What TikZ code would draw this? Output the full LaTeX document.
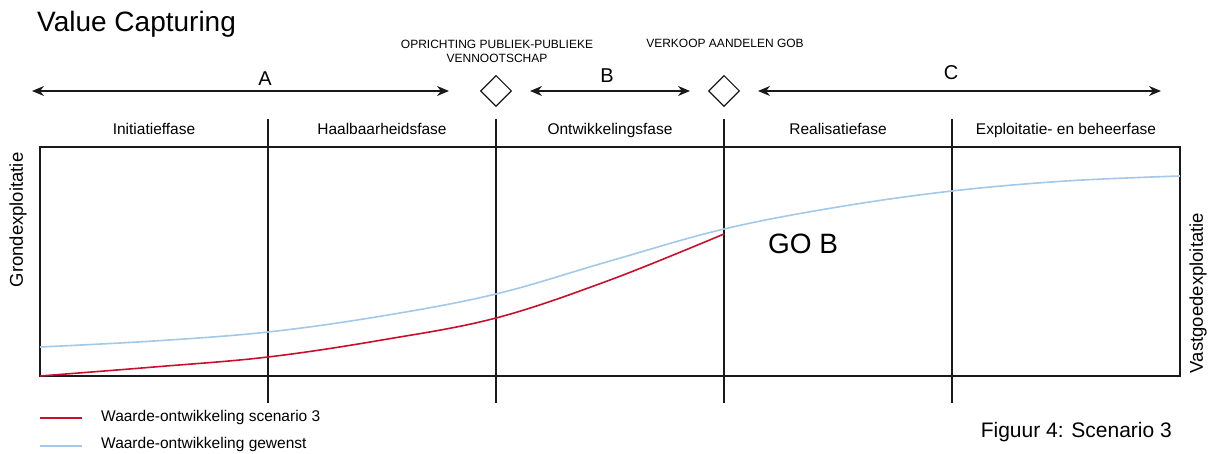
\documentclass[tikz,border=0pt]{standalone}
\usepackage{fontspec}
\setmainfont{Liberation Sans}
\usetikzlibrary{arrows.meta, positioning, shapes.geometric}
\definecolor{vcred}{HTML}{C8102E}
\definecolor{vcblue}{HTML}{A2C8EA}
\definecolor{vcline}{HTML}{1A1A1A}

\tikzset{
  phaselabel/.style={font=\fontsize{15.5}{17}\selectfont, inner sep=0pt, anchor=base},
  eventlabel/.style={font=\fontsize{12}{14.5}\selectfont, align=center, inner sep=0pt, anchor=base},
  spanlabel/.style={font=\fontsize{20}{22}\selectfont, inner sep=0pt, anchor=base},
  sidelabel/.style={rotate=90, inner sep=0pt, font=\fontsize{18.5}{20}\selectfont},
  legendlabel/.style={anchor=base west, inner sep=0pt, font=\fontsize{15.5}{17}\selectfont},
  milestone/.style={draw=vcline, diamond, minimum size=31pt, inner sep=0pt, line width=1.1pt},
  spanarrow/.style={draw=vcline, line width=1.3pt, {Stealth[length=12pt,width=10pt]}-{Stealth[length=12pt,width=10pt]}},
  gridline/.style={draw=vcline, line width=1.4pt},
  valuered/.style={draw=vcred, line width=1.6pt},
  valueblue/.style={draw=vcblue, line width=1.6pt}
}

\begin{document}
\begin{tikzpicture}[x=1pt, y=-1pt]
    \useasboundingbox (0,0) rectangle (1211,454);

    % Title
    \node[anchor=base west, inner sep=0pt, font=\fontsize{28}{30}\selectfont] (title) at (37,32) {Value Capturing};

    % Milestones
    \node[milestone] (oprichting) at (496,91) {};
    \node[milestone] (verkoop) at (724,91) {};
    \node[eventlabel] (oprichtinglbl) at (497,49) {OPRICHTING PUBLIEK-PUBLIEKE};
    \node[eventlabel] (vennootlbl) at (497,63) {VENNOOTSCHAP};
    \node[eventlabel] (verkooplbl) at (725,48) {VERKOOP AANDELEN GOB};

    % Spans A, B, C
    \coordinate (aL) at (32,91);
    \coordinate (aR) at (449,91);
    \coordinate (bL) at (530,91);
    \coordinate (bR) at (690,91);
    \coordinate (cL) at (758,91);
    \coordinate (cR) at (1161,91);
    \draw[spanarrow] (aL) -- (aR);
    \draw[spanarrow] (bL) -- (bR);
    \draw[spanarrow] (cL) -- (cR);
    \node[spanlabel] (spanA) at (265,86) {A};
    \node[spanlabel] (spanB) at (607,83) {B};
    \node[spanlabel] (spanC) at (951,80) {C};

    % Frame and phase dividers
    \draw[gridline] (40,147) rectangle (1180,376);
    \foreach \x in {268,496,724,952}
        \draw[gridline] (\x,119) -- (\x,403);

    % Phase labels
    \node[phaselabel] (initiatie) at (154,135) {Initiatieffase};
    \node[phaselabel] (haalbaar) at (382,135) {Haalbaarheidsfase};
    \node[phaselabel] (ontwikkel) at (610,135) {Ontwikkelingsfase};
    \node[phaselabel] (realisatie) at (838,135) {Realisatiefase};
    \node[phaselabel] (exploitatie) at (1066,135) {Exploitatie- en beheerfase};

    % Side labels
    \node[sidelabel] (grond) at (18,220) {Grondexploitatie};
    \node[sidelabel] (vastgoed) at (1198,293) {Vastgoedexploitatie};

    % Value curves
    \draw[valueblue] plot[smooth, tension=0.6] coordinates {(40,347) (154,341) (268,332) (382,316) (496,294) (610,261) (724,229) (838,207) (952,191) (1066,181) (1180,176)};
    \draw[valuered] plot[smooth, tension=0.6] coordinates {(40,376) (154,367) (268,357) (382,340) (496,318) (610,280) (724,234)};
    \node[anchor=base, inner sep=0pt, font=\fontsize{28}{30}\selectfont] (gob) at (803,254) {GO B};

    % Legend
    \coordinate (redL) at (40,418);
    \coordinate (redR) at (82,418);
    \coordinate (blueL) at (40,446);
    \coordinate (blueR) at (82,446);
    \draw[valuered, line width=1.3pt] (redL) -- (redR);
    \draw[valueblue, line width=1.3pt] (blueL) -- (blueR);
    \node[legendlabel] (legred) at (101,421.5) {Waarde-ontwikkeling scenario 3};
    \node[legendlabel] (legblue) at (101,449) {Waarde-ontwikkeling gewenst};

    % Caption
    \node[anchor=base east, inner sep=0pt, font=\fontsize{21}{23}\selectfont] (caption) at (1172,438) {Figuur 4: Scenario 3};
\end{tikzpicture}
\end{document}
